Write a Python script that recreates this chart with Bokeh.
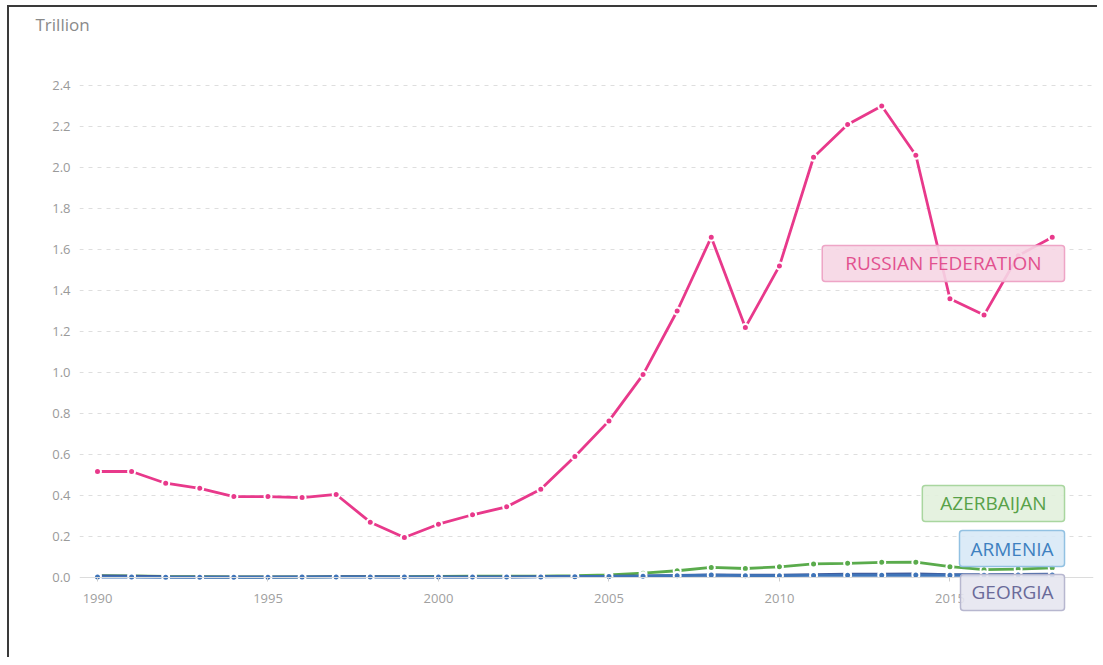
from bokeh.plotting import figure
from bokeh.models import Span, Label, FixedTicker, CustomJSTickFormatter, Title
from bokeh.embed import file_html
from bokeh.resources import INLINE

years = list(range(1990, 2019))
russia = [0.517, 0.517, 0.46, 0.435, 0.395, 0.395, 0.39, 0.405, 0.27, 0.195,
          0.26, 0.306, 0.345, 0.43, 0.59, 0.764, 0.99, 1.30, 1.66, 1.22,
          1.52, 2.05, 2.21, 2.30, 2.06, 1.36, 1.28, 1.57, 1.66]
azerbaijan = [0.009, 0.008, 0.005, 0.004, 0.003, 0.003, 0.003, 0.004, 0.004, 0.004,
              0.005, 0.006, 0.006, 0.007, 0.009, 0.013, 0.021, 0.033, 0.049, 0.044,
              0.052, 0.066, 0.069, 0.074, 0.075, 0.053, 0.038, 0.041, 0.047]
armenia = [0.002, 0.002, 0.001, 0.001, 0.001, 0.001, 0.002, 0.002, 0.002, 0.002,
           0.002, 0.002, 0.002, 0.003, 0.004, 0.005, 0.006, 0.009, 0.012, 0.009,
           0.009, 0.010, 0.011, 0.011, 0.012, 0.011, 0.011, 0.012, 0.012]
georgia = [0.008, 0.007, 0.004, 0.003, 0.003, 0.003, 0.003, 0.004, 0.004, 0.003,
           0.003, 0.003, 0.003, 0.004, 0.005, 0.006, 0.008, 0.010, 0.013, 0.011,
           0.012, 0.014, 0.016, 0.016, 0.017, 0.014, 0.014, 0.015, 0.016]
y_ticks = [0.0, 0.2, 0.4, 0.6, 0.8, 1.0, 1.2, 1.4, 1.6, 1.8, 2.0, 2.2, 2.4]
x_ticks = [1990, 1995, 2000, 2005, 2010, 2015]

# name, values, line colour, label y, box fill, box border, text colour, h-padding
series = [
    ("AZERBAIJAN", azerbaijan, "#5aab4c", 0.361, "#e2f1dd", "#a9d69f", "#58a149", 18),
    ("GEORGIA", georgia, "#415a9b", -0.073, "#e5e5f0", "#b7b7cf", "#6a6a99", 11),
    ("ARMENIA", armenia, "#3f74b8", 0.141, "#d8e9f6", "#92c1e2", "#3e80c0", 11),
    ("RUSSIAN FEDERATION", russia, "#e8398b", 1.532, "#f6d6e4", "#eea5c6", "#e2518f", 23),
]
LABEL_X = 2018.36

FONT = "Open Sans"

p = figure(width=1090, height=652, output_backend="svg", toolbar_location=None,
           x_range=(1989.472, 2019.21), y_range=(-0.2, 2.522),
           min_border_left=70, min_border_right=6, min_border_top=53, min_border_bottom=41)
p.outline_line_color = None
p.background_fill_color = "white"
p.styles = {"border-left": "2px solid #3a3a3a", "border-top": "2px solid #3a3a3a",
            "margin-left": "7px", "margin-top": "5px"}

p.title.text = "Trillion"
p.title.align = "left"
p.title.vertical_align = "top"
p.title.offset = -44
p.title.standoff = 10
p.title.text_font = FONT
p.title.text_font_size = "17px"
p.title.text_font_style = "normal"
p.title.text_color = "#8a8a8a"

# empty spacer panel between the title and the plot area
p.add_layout(Title(text=" ", text_font_size="4px", standoff=11), "above")

p.xgrid.grid_line_color = None
p.ygrid.ticker = FixedTicker(ticks=y_ticks[1:])
p.ygrid.grid_line_color = "#dedede"
p.ygrid.grid_line_dash = "4 5"
p.ygrid.grid_line_width = 1

p.yaxis.ticker = FixedTicker(ticks=y_ticks)
p.yaxis.formatter = CustomJSTickFormatter(code="return tick.toFixed(1);")
p.yaxis.axis_line_color = None
p.yaxis.major_tick_line_color = None
p.yaxis.minor_tick_line_color = None
p.yaxis.major_label_standoff = 3
p.yaxis.major_label_text_font = FONT
p.yaxis.major_label_text_font_size = "13px"
p.yaxis.major_label_text_color = "#9a9a9a"

p.xaxis.ticker = FixedTicker(ticks=x_ticks)
p.xaxis.fixed_location = 0
p.xaxis.axis_line_color = None
p.xaxis.major_tick_line_color = "#cccccc"
p.xaxis.major_tick_in = 0
p.xaxis.major_tick_out = 4
p.xaxis.minor_tick_line_color = None
p.xaxis.major_label_standoff = 12
p.xaxis.major_label_text_font = FONT
p.xaxis.major_label_text_font_size = "13px"
p.xaxis.major_label_text_color = "#a0a0a0"

p.add_layout(Span(location=0, dimension="width", line_color="#dcdcdc", line_width=1))

for name, vals, col, ly, fill, border, tcol, pad in series:
    p.line(years, vals, line_color=col, line_width=2.8)
    p.scatter(years, vals, size=7, fill_color=col, line_color="white", line_width=2)

for name, vals, col, ly, fill, border, tcol, pad in series:
    p.add_layout(Label(x=LABEL_X, y=ly, text=name, text_align="right", text_baseline="middle",
                       text_font=FONT, text_font_size="19px", text_color=tcol,
                       background_fill_color=fill, background_fill_alpha=0.9,
                       border_line_color=border, border_line_width=1.5,
                       padding=dict(left=pad, right=pad, top=5, bottom=5), border_radius=3))

open("out.html", "w").write(file_html(p, INLINE))
